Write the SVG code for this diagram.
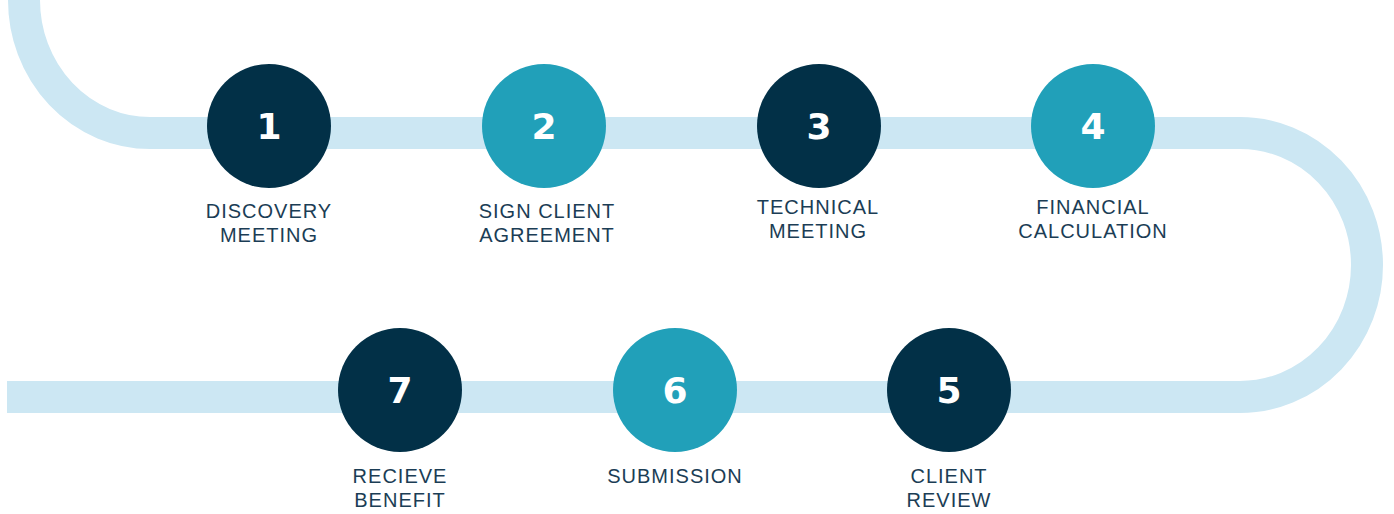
<svg xmlns="http://www.w3.org/2000/svg" width="1394" height="514" viewBox="0 0 1394 514">
<style>
.band{fill:none;stroke:#cce7f3;stroke-width:32}
.dark{fill:#023047}
.teal{fill:#21a0b9}
.num{font-family:"DejaVu Sans",sans-serif;font-weight:bold;font-size:36px;fill:#ffffff;text-anchor:middle}
.lbl{font-family:"Liberation Sans",Arial,sans-serif;font-size:20px;fill:#1b3d55;text-anchor:middle;letter-spacing:1px}
</style>
<rect width="1394" height="514" fill="#ffffff"/>
<g id="connectors">
<path class="band" d="M 24 0 A 126 133 0 0 0 150 133 L 1240 133 A 127 132 0 0 1 1240 397 L 7 397"/>
</g>
<g id="step1">
<circle class="dark" cx="269" cy="126" r="62"/>
<text class="num" x="269" y="139">1</text>
<text class="lbl" x="269" y="218">DISCOVERY</text>
<text class="lbl" x="269" y="242">MEETING</text>
</g>
<g id="step2">
<circle class="teal" cx="544" cy="126" r="62"/>
<text class="num" x="544" y="139">2</text>
<text class="lbl" x="547" y="218">SIGN CLIENT</text>
<text class="lbl" x="547" y="242">AGREEMENT</text>
</g>
<g id="step3">
<circle class="dark" cx="819" cy="126" r="62"/>
<text class="num" x="819" y="139">3</text>
<text class="lbl" x="818" y="214">TECHNICAL</text>
<text class="lbl" x="818" y="238">MEETING</text>
</g>
<g id="step4">
<circle class="teal" cx="1093" cy="126" r="62"/>
<text class="num" x="1093" y="139">4</text>
<text class="lbl" x="1093" y="214">FINANCIAL</text>
<text class="lbl" x="1093" y="238">CALCULATION</text>
</g>
<g id="step5">
<circle class="dark" cx="949" cy="390" r="62"/>
<text class="num" x="949" y="403">5</text>
<text class="lbl" x="949" y="483">CLIENT</text>
<text class="lbl" x="949" y="507">REVIEW</text>
</g>
<g id="step6">
<circle class="teal" cx="675" cy="390" r="62"/>
<text class="num" x="675" y="403">6</text>
<text class="lbl" x="675" y="483">SUBMISSION</text>
</g>
<g id="step7">
<circle class="dark" cx="400" cy="390" r="62"/>
<text class="num" x="400" y="403">7</text>
<text class="lbl" x="400" y="483">RECIEVE</text>
<text class="lbl" x="400" y="507">BENEFIT</text>
</g>
</svg>
